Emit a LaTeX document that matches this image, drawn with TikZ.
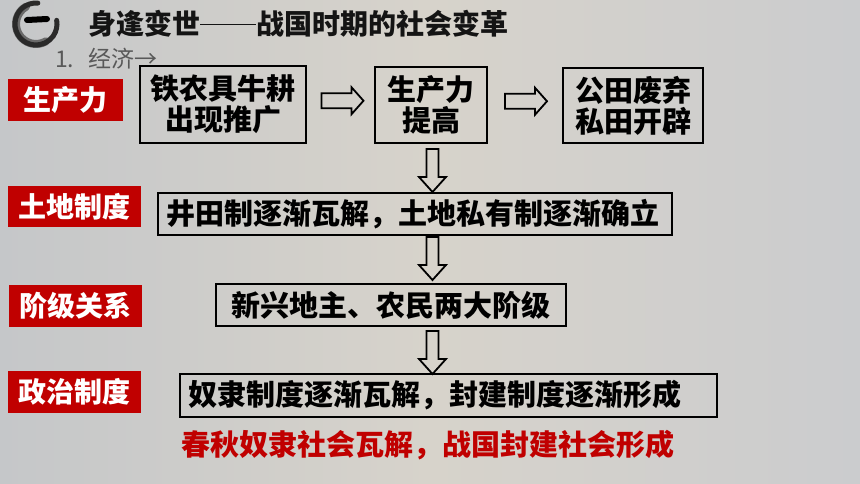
\documentclass[tikz,border=0pt]{standalone}
\usepackage{fontspec}
\setmainfont{Noto Sans CJK SC}
\usetikzlibrary{calc}
\definecolor{labred}{HTML}{C00000}
\definecolor{bgleft}{HTML}{C5C7C9}
\definecolor{bgmid}{HTML}{D7D3CB}
\definecolor{bgright}{HTML}{CBCCCE}
\definecolor{ink}{HTML}{2A2A2A}
\tikzset{
  boxtext/.style={font=\fontsize{29}{31}\selectfont\bfseries, text=black},
  framebox/.style={boxtext, draw=black, line width=2pt, anchor=north west, inner sep=0pt, outer sep=0pt},
  labelbox/.style={fill=labred, text=white, font=\fontsize{28}{31}\selectfont\bfseries, anchor=north west, inner sep=0pt, outer sep=0pt},
  arrowline/.style={draw=black, line width=1.8pt, line join=miter, fill=none},
  rarr/.pic={\path[arrowline] (-21,-7.5) -- (9,-7.5) -- (9,-13.5) -- (21,0) -- (9,13.5) -- (9,7.5) -- (-21,7.5) -- cycle;},
  darr/.pic={\path[arrowline] (-6,-43) -- (6,-43) -- (6,-15) -- (13.5,-15) -- (0,0) -- (-13.5,-15) -- (-6,-15) -- cycle;}
}
\begin{document}
\begin{tikzpicture}[x=1pt,y=-1pt]
\useasboundingbox (0,0) rectangle (860,484);
% background
\shade[left color=bgleft, right color=bgmid] (0,0) rectangle (430,484);
\shade[left color=bgmid, right color=bgright] (430,0) rectangle (860,484);

% logo
\begin{scope}[shift={(36,24)}, yscale=-1]
  \draw[ink!70, line width=8pt, line cap=round] (120:20) arc[start angle=120, end angle=300, radius=20];
  \draw[ink, line width=5pt, line cap=round] (85:21) arc[start angle=85, end angle=370, radius=21];
  \draw[black, line width=6pt, line cap=round] (-9,4) -- (11,5);
\end{scope}
\node[anchor=west, inner sep=0pt, font=\fontsize{28}{30}\selectfont\bfseries, text=black!92] (title) at (88,24) {身逢变世\rule[0.33em]{2em}{1.6pt}战国时期的社会变革};
\node[anchor=west, inner sep=0pt, font=\fontsize{23}{24}\selectfont, text=black!65] (sub) at (55,59) {1.\hspace{14pt}经济→};

% labels
\node[labelbox, minimum width=115pt, minimum height=42pt] (l1) at (8,79) {生产力};
\node[labelbox, minimum width=133pt, minimum height=41pt] (l2) at (8,186) {土地制度};
\node[labelbox, minimum width=133pt, minimum height=42pt] (l3) at (9,285) {阶级关系};
\node[labelbox, minimum width=133pt, minimum height=42pt] (l4) at (8,371) {政治制度};

% boxes
\node[framebox, minimum width=166pt, minimum height=77pt, align=center] (b1) at (140,66) {铁农具牛耕\\出现推广};
\node[framebox, minimum width=112pt, minimum height=76pt, align=center] (b2) at (375,67) {生产力\\提高};
\node[framebox, minimum width=140pt, minimum height=75pt, align=center] (b3) at (563,68) {公田废弃\\私田开辟};
\node[framebox, minimum width=514pt, minimum height=42pt, text width=498pt, inner xsep=8pt, align=left] (b4) at (158,193) {井田制逐渐瓦解，土地私有制逐渐确立};
\node[framebox, minimum width=350pt, minimum height=42pt, align=center] (b5) at (216,284) {新兴地主、农民两大阶级};
\node[framebox, minimum width=537pt, minimum height=43pt, text width=521pt, inner xsep=8pt, align=left] (b6) at (180,374) {奴隶制度逐渐瓦解，封建制度逐渐形成};

\node[inner sep=0pt, font=\fontsize{29}{31}\selectfont\bfseries, text=labred] (conc) at (428,445) {春秋奴隶社会瓦解，战国封建社会形成};

% arrows
\pic at ($(b1.east)!0.5!(b2.west)+(2,-4)$) {rarr};
\pic at ($(b2.east)!0.5!(b3.west)+(1,-4)$) {rarr};
\pic at ($(b2.south |- b4.north)+(1.5,-1)$) {darr};
\pic at ($(b2.south |- b5.north)+(1.5,-4)$) {darr};
\pic at ($(b2.south |- b6.north)+(1.5,0)$) {darr};
\end{tikzpicture}
\end{document}
